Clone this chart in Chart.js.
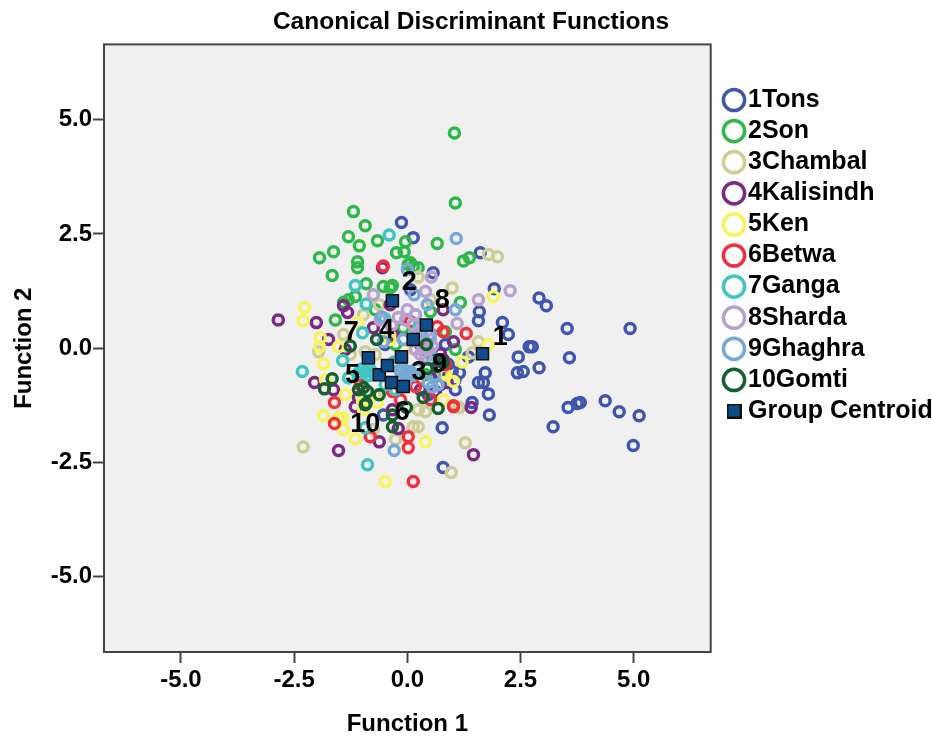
<!DOCTYPE html>
<html lang="en">
<head>
    <meta charset="UTF-8">
    <title>Canonical Discriminant Functions</title>
    <style>
        html, body { margin: 0; padding: 0; background: #fff; }
        canvas { display: block; }
    </style>
</head>
<body>
    <canvas id="chart" width="932" height="736"></canvas>

    <script src="https://cdn.jsdelivr.net/npm/chart.js"></script>
    <script>
        // Group scores, [function 1, function 2]
        const tons = [[1.92,1.30],[1.59,0.80],[1.57,0.60],[2.10,0.56],[2.23,0.30],[2.91,1.10],[3.07,0.93],[3.53,0.43],[4.92,0.43],[2.69,0.03],[2.76,0.03],[2.45,-0.19],[3.58,-0.21],[2.91,-0.43],[2.43,-0.54],[2.56,-0.51],[1.72,-0.54],[1.57,-0.75],[1.68,-0.75],[1.79,-1.00],[1.81,-1.46],[1.43,-1.19],[3.55,-1.30],[3.75,-1.21],[3.82,-1.19],[4.37,-1.15],[4.68,-1.39],[5.12,-1.48],[3.22,-1.72],[4.99,-2.13],[0.77,-1.74],[0.79,-2.61],[1.15,-0.54],[1.35,-0.19],[-0.13,2.75],[0.13,2.42],[1.61,2.09],[0.57,1.65],[0.84,0.08],[0.99,-0.51],[0.73,-0.80],[0.57,-0.25],[1.06,-0.91],[0.46,-1.02],[0.29,0.08],[0.07,1.28],[-0.49,0.08],[-0.53,-1.46],[0.90,-0.35],[1.05,-0.70],[0.70,-0.60],[0.60,-0.95]];
        const son = [[1.04,4.71],[1.06,3.18],[-1.19,2.99],[-0.93,2.68],[-1.30,2.44],[-1.06,2.24],[-0.66,2.35],[-0.04,2.33],[-0.24,2.09],[-0.07,2.11],[0.66,2.29],[-1.63,2.11],[-1.94,1.98],[-1.10,1.89],[-1.10,1.76],[-1.66,1.59],[1.24,1.91],[1.37,1.98],[0.02,1.83],[0.13,1.78],[0.24,1.76],[0.07,1.87],[-0.91,1.41],[-0.53,1.35],[-0.33,1.37],[-0.38,1.32],[-1.15,1.13],[-1.30,1.06],[-1.41,1.00],[-1.59,0.62],[1.17,1.00],[0.84,0.36],[-0.09,0.45],[0.51,0.80],[1.06,-0.03],[-0.71,0.84],[-0.26,0.08],[0.40,-0.58]];
        const chambal = [[1.79,2.05],[1.99,2.00],[0.24,1.56],[0.99,1.32],[-0.62,0.95],[-0.97,0.73],[-1.41,0.30],[-1.96,-0.08],[1.57,0.14],[1.43,-0.10],[1.15,-1.30],[1.28,-2.07],[0.97,-2.72],[-2.30,-2.16],[0.24,-1.35],[0.13,-1.72],[0.24,-1.72],[-0.26,-2.00],[1.13,-1.30],[-1.26,-0.14],[-0.93,-0.08],[-0.75,-1.78],[-0.71,-0.14],[0.40,-1.39],[-0.38,0.30],[0.51,1.06],[-0.71,-1.02]];
        const kalisindh = [[-2.85,0.62],[-2.01,0.56],[-1.41,0.93],[-1.32,0.78],[-0.55,1.76],[-1.74,0.19],[1.02,0.14],[0.79,0.84],[-0.75,0.45],[-0.31,0.30],[-2.05,-0.75],[-1.52,-2.24],[-0.62,-2.05],[1.46,-2.33],[1.41,-1.30],[-0.20,-1.76],[-0.33,-1.35],[-1.15,-1.28],[-1.63,-0.91],[0.62,-0.95],[0.88,-0.75],[-1.08,-1.08],[0.68,-0.51],[0.79,-0.25],[0.73,-0.12],[0.29,-0.91],[-1.37,-0.03],[-0.38,0.95]];
        const ken = [[-2.27,0.89],[-2.30,0.60],[-1.92,0.23],[-1.94,0.03],[-1.85,-0.34],[-1.52,0.03],[-1.37,-1.02],[-1.85,-1.48],[-1.52,-1.52],[-1.81,-0.69],[-1.41,-1.78],[-1.15,-1.98],[-1.43,-1.52],[0.40,-2.05],[-0.49,-2.92],[1.21,-0.30],[1.02,-0.73],[0.79,-1.13],[0.84,-0.58],[1.79,0.08],[1.90,1.13],[0.79,-0.54],[-1.10,0.56],[-0.97,-1.35],[-0.66,-1.19],[-0.99,-1.17],[-0.38,0.19],[0.13,-0.03]];
        const betwa = [[-0.53,1.80],[1.30,0.32],[0.66,0.47],[1.02,-1.28],[0.79,0.36],[-1.61,-1.19],[-1.61,-1.65],[-0.82,-1.94],[0.02,-1.94],[0.02,-2.18],[0.13,-2.92],[1.02,-1.26],[0.51,-1.13],[0.18,-0.84],[0.35,-0.03],[-0.15,-1.13],[0.84,-0.36],[-1.04,-0.80],[-0.33,-0.95],[0.07,0.58]];
        const ganga = [[-0.40,2.48],[-1.15,1.37],[-0.91,0.97],[-0.99,0.34],[-2.32,-0.51],[-1.43,-0.27],[-0.88,-2.55],[-0.93,-1.74],[-0.93,-0.51],[-1.08,-0.54],[-0.82,-0.47],[-1.30,-0.65],[0.18,0.30],[0.51,-0.14],[-0.15,-0.69],[-0.49,-0.80],[-0.26,-0.91],[0.18,0.73],[-0.75,-0.55],[-1.00,-0.45],[-0.85,-0.60],[-0.30,-0.30],[0.00,-0.60],[-0.50,0.65],[0.25,0.45]];
        const sharda = [[0.53,1.56],[-0.75,1.17],[1.57,1.06],[1.10,0.54],[2.27,1.26],[0.33,0.08],[0.51,0.19],[0.46,-0.03],[0.18,-0.03],[0.29,-0.14],[-0.04,0.62],[-0.20,0.67],[0.00,0.84],[0.18,0.73],[0.13,0.51],[0.40,1.24],[-0.60,0.62],[0.35,0.25],[0.55,0.05],[0.40,-0.20],[0.25,0.30],[0.45,0.40],[-0.35,0.50]];
        const ghaghra = [[1.08,2.40],[0.00,1.72],[0.15,1.17],[0.44,0.95],[1.06,0.84],[-0.57,0.69],[-0.29,-2.24],[0.46,-0.75],[-0.04,-0.54],[-0.15,-0.51],[0.07,-0.51],[-0.11,-0.69],[-0.53,0.14],[-0.09,0.19],[0.51,0.30],[0.68,-0.80],[0.00,-0.60],[-0.10,-0.45],[0.10,-0.60],[-0.05,-0.75],[0.20,-0.45],[0.60,-0.60],[0.55,-0.85]];
        const gomti = [[-1.26,0.05],[-1.66,-0.67],[-1.83,-0.89],[-0.93,-1.24],[-1.08,-0.91],[-0.68,0.19],[0.42,0.08],[-0.97,-0.86],[-0.88,-0.95],[-0.62,-1.02],[-0.91,-1.21],[-0.33,-1.46],[-0.33,-1.72],[-0.02,-1.30],[0.35,-1.08],[0.68,-1.32],[0.44,-0.45],[0.66,-0.40],[0.79,-0.32]];

        // Centroids in group order 1..10
        const centroidX = [1.66, -0.33, -0.35, 0.13, -0.62, -0.09, -0.86, 0.42, -0.13, -0.44];
        const centroidY = [-0.12, 1.04, -0.75, 0.19, -0.58, -0.84, -0.21, 0.51, -0.19, -0.38];

        // Where the group numbers sit
        const groupNumbers = ["1", "2", "3", "4", "5", "6", "7", "8", "9", "10"];
        const numberX = [2.05, 0.04, 0.26, -0.46, -1.21, -0.11, -1.24, 0.77, 0.71, -0.93];
        const numberY = [0.23, 1.43, -0.54, 0.38, -0.60, -1.41, 0.34, 1.04, -0.36, -1.67];

        const groupNames = ["1Tons", "2Son", "3Chambal", "4Kalisindh", "5Ken", "6Betwa", "7Ganga", "8Sharda", "9Ghaghra", "10Gomti"];
        const groupColors = ["#3e56ae", "#2eb84a", "#d0cc96", "#7a2a82", "#f8f45c", "#f0303c", "#40c4c4", "#b8a0d0", "#78a8d8", "#146030"];
        const groupScores = [tons, son, chambal, kalisindh, ken, betwa, ganga, sharda, ghaghra, gomti];
        const tickValues = [-5, -2.5, 0, 2.5, 5];

        const fontFamily = "'Liberation Sans', Arial, sans-serif";
        const boldFont = { family: fontFamily, size: 24, weight: "bold" };

        // Small square for the centroid row of the legend
        const legendSquare = document.createElement("canvas");
        legendSquare.width = 15;
        legendSquare.height = 15;
        const sq = legendSquare.getContext("2d");
        sq.fillStyle = "#0f4c8a";
        sq.fillRect(0, 0, 15, 15);
        sq.strokeStyle = "#111";
        sq.lineWidth = 2;
        sq.strokeRect(1, 1, 13, 13);

        const datasets = groupNames.map((name, i) => ({
            label: name,
            data: groupScores[i].map(p => ({ x: p[0], y: p[1] })),
            borderColor: groupColors[i],
            backgroundColor: "transparent",
            borderWidth: 3.5,
            pointRadius: 5,
            order: 10 - i
        }));
        datasets.push({
            label: "Group Centroid",
            data: centroidX.map((x, i) => ({ x: x, y: centroidY[i] })),
            borderColor: "#111",
            backgroundColor: "#0f4c8a",
            borderWidth: 1.5,
            pointStyle: "rect",
            pointRadius: 8.5,
            order: 0
        });

        // Grey plot panel with its frame
        const plotPanel = {
            id: "plotPanel",
            beforeDatasetsDraw(chart) {
                const a = chart.chartArea, c = chart.ctx;
                c.save();
                c.fillStyle = "#f0f0f0";
                c.fillRect(a.left, a.top, a.width, a.height);
                c.strokeStyle = "#444";
                c.lineWidth = 2;
                c.strokeRect(a.left, a.top, a.width, a.height);
                c.restore();
            }
        };

        // Numbers next to the centroids
        const numberLabels = {
            id: "numberLabels",
            afterDatasetsDraw(chart) {
                const c = chart.ctx;
                c.save();
                c.font = "bold 27px " + fontFamily;
                c.fillStyle = "#000";
                c.textAlign = "center";
                c.textBaseline = "middle";
                groupNumbers.forEach((t, i) => {
                    c.fillText(t, chart.scales.x.getPixelForValue(numberX[i]), chart.scales.y.getPixelForValue(numberY[i]));
                });
                c.restore();
            }
        };

        // Legend sits further right and lower than the layout would put it, title centres on the full width
        const boxPlace = {
            id: "boxPlace",
            afterLayout(chart) {
                chart.legend.left = 726.4;
                chart.legend.right = 932;
                chart.legend.top = 81.4;
                chart.titleBlock.right = 932;
                // circles are wider than the legend box, so no clipping
                chart.legend.draw = function () { this._draw(); };
            }
        };

        new Chart(document.getElementById("chart"), {
            type: "scatter",
            data: { datasets: datasets },
            plugins: [plotPanel, numberLabels, boxPlace],
            options: {
                responsive: false,
                animation: false,
                layout: { padding: { left: 10, right: 5, top: 0, bottom: 0 } },
                plugins: {
                    title: {
                        display: true,
                        text: "Canonical Discriminant Functions",
                        color: "#000",
                        font: { family: fontFamily, size: 24.5, weight: "bold" },
                        padding: { top: 8, bottom: 7 }
                    },
                    legend: {
                        position: "right",
                        align: "start",
                        labels: {
                            usePointStyle: true,
                            boxWidth: 3,
                            boxHeight: 15,
                            padding: 6.1,
                            color: "#000",
                            font: { family: fontFamily, size: 25, weight: "bold" },
                            sort: (a, b) => a.datasetIndex - b.datasetIndex,
                            generateLabels(chart) {
                                const items = Chart.defaults.plugins.legend.labels.generateLabels(chart);
                                items.forEach(item => {
                                    if (item.text === "Group Centroid") {
                                        item.pointStyle = legendSquare;
                                    }
                                });
                                return items;
                            }
                        }
                    },
                    tooltip: { enabled: false }
                },
                scales: {
                    x: {
                        min: -6.7,
                        max: 6.7,
                        afterBuildTicks(scale) { scale.ticks = tickValues.map(v => ({ value: v })); },
                        afterFit(scale) { scale.height = 84; },
                        border: { display: false },
                        grid: { drawOnChartArea: false, drawTicks: true, tickLength: 11, tickWidth: 2, color: "#444" },
                        ticks: { color: "#000", font: boldFont, padding: 3, maxRotation: 0, callback: v => v.toFixed(1) },
                        title: { display: true, text: "Function 1", color: "#000", font: boldFont, padding: { top: 0, bottom: -3 } }
                    },
                    y: {
                        min: -6.65,
                        max: 6.65,
                        afterBuildTicks(scale) { scale.ticks = tickValues.map(v => ({ value: v })); },
                        afterFit(scale) { scale.width = 94; },
                        border: { display: false },
                        grid: { drawOnChartArea: false, drawTicks: true, tickLength: 11, tickWidth: 2, color: "#444" },
                        ticks: { color: "#000", font: boldFont, padding: 1, callback: v => v.toFixed(1) },
                        title: { display: true, text: "Function 2", color: "#000", font: boldFont, padding: { top: 0, bottom: 1 } }
                    }
                }
            }
        });
    </script>
</body>
</html>
